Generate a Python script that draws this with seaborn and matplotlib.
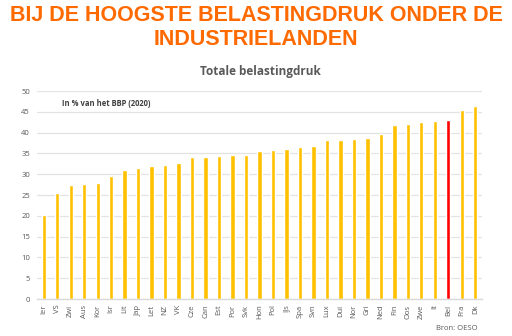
import matplotlib
matplotlib.use("Agg")
import matplotlib.pyplot as plt
import seaborn as sns
import pandas as pd

# Total tax burden, % of GDP (2020)
landen = ["Ier", "VS", "Zwi", "Aus", "Kor", "Isr", "Lit", "Jap", "Let", "NZ", "VK",
          "Cze", "Can", "Est", "Por", "Svk", "Hon", "Pol", "IJs", "Spa", "Svn", "Lux",
          "Dui", "Nor", "Gri", "Ned", "Fin", "Oos", "Zwe", "It", "Bel", "Fra", "Dk"]
belastingdruk = [20.2, 25.4, 27.5, 27.6, 27.9, 29.6, 31.1, 31.4, 31.9, 32.1, 32.6,
                 34.2, 34.2, 34.4, 34.6, 34.6, 35.6, 35.9, 36.1, 36.5, 36.8, 38.3,
                 38.3, 38.5, 38.8, 39.7, 41.9, 42.1, 42.5, 42.9, 43.1, 45.4, 46.5]
highlight = "Bel"

titel_regels = ["BIJ DE HOOGSTE BELASTINGDRUK ONDER DE", "INDUSTRIELANDEN"]
subtitel = "Totale belastingdruk"
eenheid = "In % van het BBP (2020)"
bron = "Bron: OESO"
yticks = [0, 5, 10, 15, 20, 25, 30, 35, 40, 45, 50]

df = pd.DataFrame({"land": landen, "waarde": belastingdruk})
palette = {l: ("#FF0000" if l == highlight else "#FFC000") for l in landen}

sns.set_theme(style="white")
plt.rcParams["font.family"] = ["Open Sans", "DejaVu Sans"]

fig = plt.figure(figsize=(5.12, 3.36), dpi=100)
ax = fig.add_axes([37 / 512, 1 - 299 / 336, 445 / 512, 208 / 336])

sns.barplot(data=df, x="land", y="waarde", hue="land", palette=palette,
            width=0.32, legend=False, ax=ax, saturation=1)

ax.set_xlim(-0.5, len(landen) - 0.5)
ax.set_ylim(0, 50)
ax.set_yticks(yticks)
ax.yaxis.grid(True, color="#E3E3E3", linewidth=0.9)
ax.set_axisbelow(True)
for s in ["top", "right", "left"]:
    ax.spines[s].set_visible(False)
ax.spines["bottom"].set_color("#D9D9D9")
ax.spines["bottom"].set_linewidth(1.0)
ax.set_xlabel("")
ax.set_ylabel("")
ax.tick_params(axis="y", length=0, labelsize=5.5, labelcolor="#595959", pad=5)
ax.tick_params(axis="x", length=0, labelsize=5.5, labelcolor="#595959", pad=4)
ax.set_xticks(range(len(landen)))
ax.set_xticklabels(landen, rotation=90)

ax.text(62 / 512, 1 - 104 / 336, eenheid, transform=fig.transFigure,
        fontsize=5.5, fontweight="bold", color="#404040", va="center", ha="left")

for regel, yc in zip(titel_regels, [15.5, 39.5]):
    fig.text(0.5, 1 - yc / 336, regel, ha="center", va="center", fontsize=15.5,
             fontweight="bold", color="#FF6A00",
             family=["Liberation Sans", "DejaVu Sans"])
fig.text(260 / 512, 1 - 71 / 336, subtitel, ha="center", va="center", fontsize=8.5,
         fontweight="bold", color="#595959")
fig.text(478 / 512, 1 - 328 / 336, bron, ha="right", va="center", fontsize=5.5,
         color="#595959")

fig.savefig("out.png", dpi=100)
